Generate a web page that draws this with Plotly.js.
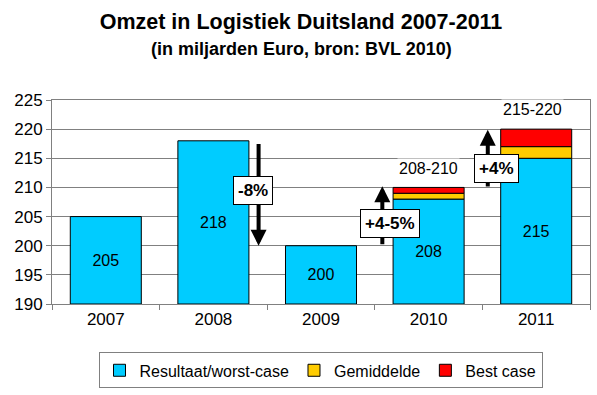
<!DOCTYPE html>
<html><head><meta charset="utf-8">
<script src="https://cdn.plot.ly/plotly-3.0.1.min.js"></script>
<style>html,body{margin:0;padding:0;background:#fff}</style>
</head><body><div id="chart" style="width:597px;height:395px"></div>
<script>
const years = ['2007','2008','2009','2010','2011'];
const resultaat = [205, 218, 200, 208, 215];
const gemiddelde = [null, null, null, 209, 217];
const bestCase = [null, null, null, 210, 220];
const axisMin = 190, axisMax = 225;
const yTicks = [190,195,200,205,210,215,220,225];
const rangeLabels = [{x: 3.0, y: 213.3, text: '208-210'}, {x: 3.97, y: 223.4, text: '215-220'}];
const changes = [
  {text: '-8%', arrowX: 1.42, from: 217.7, to: 200, boxX: 1.37, boxY: 209.4},
  {text: '+4-5%', arrowX: 2.57, from: 200, to: 210.2, boxX: 2.64, boxY: 203.8},
  {text: '+4%', arrowX: 3.55, from: 209.9, to: 219.9, boxX: 3.63, boxY: 213.3}
];

const FONT = 'Liberation Sans, Arial, sans-serif';
const line = {color: '#000', width: 1};
const traces = [
  {type: 'bar', name: 'Resultaat/worst-case', x: years,
   base: resultaat.map(() => axisMin), y: resultaat.map(v => v - axisMin),
   marker: {color: '#00CCFF', line: line},
   text: resultaat.map(String), textposition: 'inside', insidetextanchor: 'middle',
   textangle: 0, textfont: {family: FONT, size: 16, color: '#000'}, hoverinfo: 'x+text'},
  {type: 'bar', name: 'Gemiddelde', x: years,
   base: resultaat, y: gemiddelde.map((v, i) => v == null ? null : v - resultaat[i]),
   marker: {color: '#FFCC00', line: line}, hoverinfo: 'x'},
  {type: 'bar', name: 'Best case', x: years,
   base: gemiddelde, y: bestCase.map((v, i) => v == null ? null : v - gemiddelde[i]),
   marker: {color: '#FF0000', line: line}, hoverinfo: 'x'}
];

const annotations = [
  {xref: 'paper', yref: 'paper', x: (301 - 52) / 538, xanchor: 'center', y: 1.249, yanchor: 'middle', showarrow: false,
   text: '(in miljarden Euro, bron: BVL 2010)', font: {family: FONT, size: 18, color: '#000', weight: 'bold'}}
];
rangeLabels.forEach(l => annotations.push({x: l.x, y: l.y, xref: 'x', yref: 'y', text: l.text,
  showarrow: false, bgcolor: '#fff', font: {family: FONT, size: 16, color: '#000'}}));
changes.forEach(c => {
  annotations.push({x: c.arrowX, y: c.to, ax: c.arrowX, ay: c.from, xref: 'x', yref: 'y',
    axref: 'x', ayref: 'y', text: '', showarrow: true, arrowhead: 2, arrowsize: 0.8,
    arrowwidth: 4, arrowcolor: '#000'});
  annotations.push({x: c.boxX, y: c.boxY, xref: 'x', yref: 'y', text: c.text, showarrow: false,
    bgcolor: '#fff', bordercolor: '#000', borderwidth: 1, borderpad: 4,
    font: {family: FONT, size: 17, color: '#000', weight: 'bold'}});
});

const layout = {
  width: 597, height: 395,
  margin: {l: 52, r: 7, t: 100, b: 86},
  paper_bgcolor: '#fff', plot_bgcolor: '#fff',
  barmode: 'overlay', bargap: 0.34,
  font: {family: FONT, size: 16, color: '#000'},
  title: {text: 'Omzet in Logistiek Duitsland 2007-2011', x: 301 / 597, xanchor: 'center',
    y: 1 - 21/395, yanchor: 'middle', yref: 'container',
    font: {family: FONT, size: 21.5, color: '#000', weight: 'bold'}},
  xaxis: {type: 'category', tickson: 'boundaries', ticks: 'outside', ticklen: 5, tickcolor: '#808080',
    showline: true, linecolor: '#808080', mirror: true, showgrid: false,
    tickfont: {family: FONT, size: 17, color: '#000'}},
  yaxis: {range: [axisMin, axisMax], tickvals: yTicks, ticks: 'outside', ticklen: 5, tickcolor: '#808080',
    showline: true, linecolor: '#808080', mirror: true, showgrid: true, gridcolor: '#808080',
    zeroline: false, tickfont: {family: FONT, size: 17, color: '#000'}},
  showlegend: true,
  legend: {orientation: 'h', x: (320.5 - 52) / 538, xanchor: 'center', y: (309 - 377) / 209, yanchor: 'middle',
    bordercolor: '#808080', borderwidth: 1, font: {family: FONT, size: 16, color: '#000'},
    traceorder: 'normal'},
  annotations: annotations
};
Plotly.newPlot('chart', traces, layout, {displayModeBar: false, staticPlot: true});
</script></body></html>
